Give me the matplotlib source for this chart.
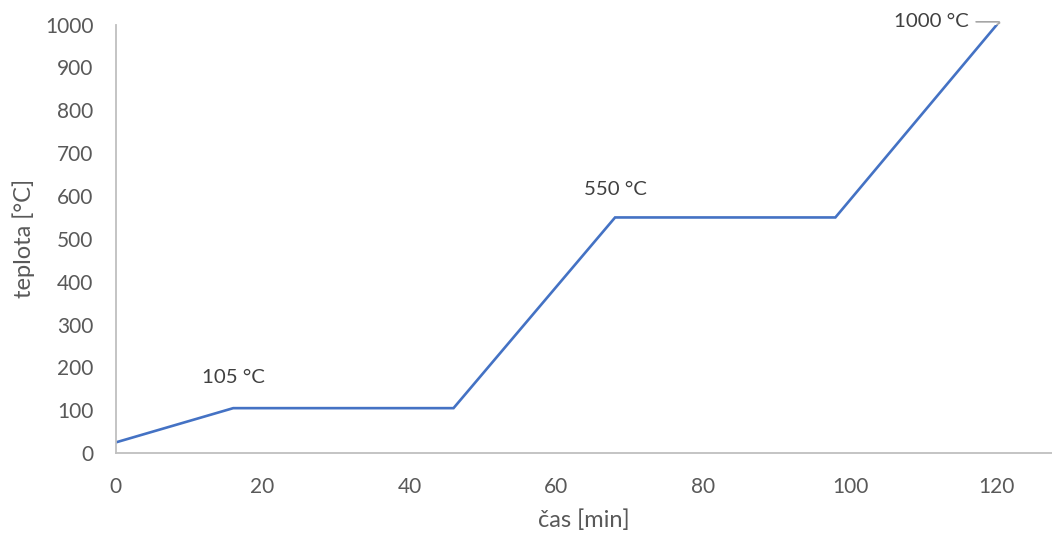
import matplotlib.pyplot as plt

# time [min] and temperature [°C] of the heating programme
cas = [0, 16, 46, 68, 98, 120]
teplota = [25, 105, 105, 550, 550, 1000]
xticks = [0, 20, 40, 60, 80, 100, 120]
yticks = [0, 100, 200, 300, 400, 500, 600, 700, 800, 900, 1000]

plt.rcParams['font.family'] = ['Lato', 'DejaVu Sans']
grey = '#595959'

fig = plt.figure(figsize=(10.52, 5.35), dpi=100)
ax = fig.add_axes([0.110, 0.153, 0.890, 0.801])
ax.plot(cas, teplota, color='#4472C4', lw=1.9, solid_joinstyle='miter')

ax.set_xlim(0, 127.5)
ax.set_ylim(0, 1000)
ax.set_xticks(xticks)
ax.set_yticks(yticks)
ax.tick_params(length=0, labelsize=15, labelcolor=grey)
ax.tick_params(axis='y', pad=16)
ax.tick_params(axis='x', pad=17)
for s in ['top', 'right']:
    ax.spines[s].set_visible(False)
for s in ['left', 'bottom']:
    ax.spines[s].set_color('#BFBFBF')
    ax.spines[s].set_linewidth(1.3)

ax.set_xlabel('čas [min]', fontsize=17, color=grey, labelpad=9)
ax.set_ylabel('teplota [°C]', fontsize=17, color=grey, labelpad=7)

# data labels
ax.annotate('105 °C', (cas[1], teplota[1]), xytext=(0, 18), textcoords='offset points',
            ha='center', va='baseline', fontsize=14.7, color='#404040')
ax.annotate('550 °C', (cas[3], teplota[3]), xytext=(0, 16.5), textcoords='offset points',
            ha='center', va='baseline', fontsize=14.7, color='#404040')
ax.annotate('1000 °C', (cas[5], teplota[5]), xytext=(-20, 2), textcoords='offset points',
            ha='right', va='center', fontsize=14.7, color='#404040',
            arrowprops=dict(arrowstyle='-', color='#A6A6A6', lw=1.2,
                            shrinkA=3, shrinkB=0,
                            connectionstyle='angle,angleA=0,angleB=30,rad=4'),
            annotation_clip=False)

fig.savefig('out.png', dpi=100)
